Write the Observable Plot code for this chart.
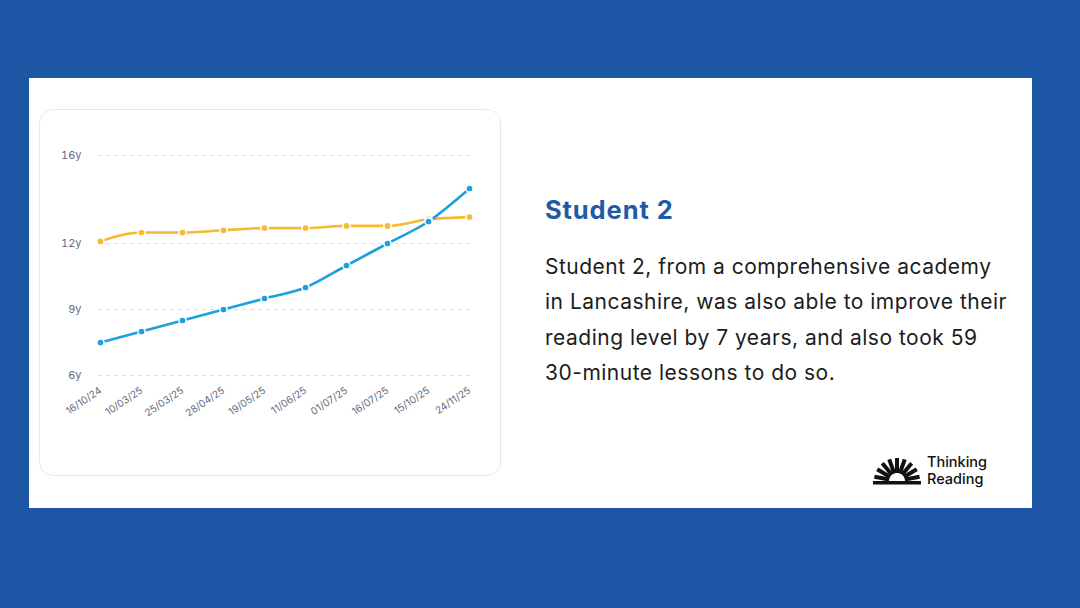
<!DOCTYPE html>
<html>
<head>
<meta charset="utf-8">
<script src="https://cdn.jsdelivr.net/npm/d3@7"></script>
<script src="https://cdn.jsdelivr.net/npm/@observablehq/plot@0.6"></script>
<style>
  html, body { margin: 0; padding: 0; }
  body { width: 1080px; height: 608px; background: #1D56A5; position: relative; overflow: hidden; font-family: Inter, "Noto Sans", sans-serif; }
  #panel { position: absolute; left: 29px; top: 78px; width: 1003px; height: 430px; background: #fff; }
  #card { position: absolute; left: 39px; top: 109px; width: 462px; height: 367px; border: 1px solid #e6e8ec; border-radius: 14px; box-sizing: border-box; background: #fff; }
  #chart { position: absolute; left: 40px; top: 110px; }
  #title { position: absolute; left: 545px; top: 194px; font-size: 25.5px; font-weight: 700; color: #1F5AA8; margin: 0; letter-spacing: 0.9px; line-height: 32px; }
  #body { position: absolute; left: 545px; top: 249px; width: 480px; font-size: 21px; line-height: 35.3px; letter-spacing: 0.5px; color: #1c1c1c; margin: 0; white-space: nowrap; }
  #logo { position: absolute; left: 872px; top: 456px; }
  .logotext { position: absolute; left: 927px; font-size: 14.5px; line-height: 15px; font-weight: 500; color: #111; }
</style>
</head>
<body>
<div id="panel"></div>
<div id="card"></div>
<div id="chart"></div>
<p id="title">Student 2</p>
<p id="body">Student 2, from a comprehensive academy<br>in Lancashire, was also able to improve their<br>reading level by 7 years, and also took 59<br>30-minute lessons to do so.</p>
<svg id="logo" width="52" height="32" viewBox="0 0 52 32"></svg>
<div class="logotext" style="top:454px">Thinking</div>
<div class="logotext" style="top:471px">Reading</div>
<script>
const dates = ["16/10/24","10/03/25","25/03/25","28/04/25","19/05/25","11/06/25","01/07/25","16/07/25","15/10/25","24/11/25"];
const readingAge = [7.5, 8.0, 8.5, 9.0, 9.5, 10.0, 11.0, 12.0, 13.0, 14.5];
const chronoAge = [12.1, 12.5, 12.5, 12.6, 12.7, 12.7, 12.8, 12.8, 13.1, 13.2];
const yTicks = [6, 9, 12, 16];

const rows = [];
dates.forEach((d, i) => {
  rows.push({date: d, value: chronoAge[i], series: "Chronological age"});
  rows.push({date: d, value: readingAge[i], series: "Reading age"});
});

const colors = {"Chronological age": "#F6B933", "Reading age": "#1CA0E0"};

const chart = Plot.plot({
  width: 460,
  height: 366,
  marginLeft: 58,
  marginRight: 30,
  marginTop: 45,
  marginBottom: 101,
  style: {fontFamily: "Inter, 'Noto Sans', sans-serif", background: "transparent"},
  x: {type: "point", domain: dates, padding: 0, label: null},
  y: {domain: [6, 16], label: null},
  marks: [
    Plot.ruleY(yTicks, {stroke: "#d9dce1", strokeDasharray: "4,4", strokeWidth: 1}),
    Plot.axisY(yTicks, {tickSize: 0, tickPadding: 17, tickFormat: d => d + "y", fontSize: 11, fill: "#5f6b7c", label: null}),
    Plot.axisX({tickSize: 0, tickPadding: 14, tickRotate: -34, fontSize: 10, fill: "#5f6b7c", label: null}),
    Plot.line(rows, {x: "date", y: "value", z: "series", stroke: d => colors[d.series], strokeWidth: 2.6, curve: "monotone-x"}),
    Plot.dot(rows, {x: "date", y: "value", fill: d => colors[d.series], stroke: "#fff", strokeWidth: 1.5, r: 3.6})
  ]
});
document.getElementById("chart").appendChild(chart);

// logo rays
const logo = d3.select("#logo");
const cx = 25, cy = 25;
const n = 9;
for (let i = 0; i < n; i++) {
  const a = Math.PI * (0.06 + 0.88 * i / (n - 1));
  logo.append("line")
    .attr("x1", cx - Math.cos(a) * 8).attr("y1", cy - Math.sin(a) * 8)
    .attr("x2", cx - Math.cos(a) * 23).attr("y2", cy - Math.sin(a) * 23)
    .attr("stroke", "#111").attr("stroke-width", 4);
}
logo.append("rect").attr("x", 1).attr("y", 25).attr("width", 48).attr("height", 3.5).attr("fill", "#111");
</script>
</body>
</html>
